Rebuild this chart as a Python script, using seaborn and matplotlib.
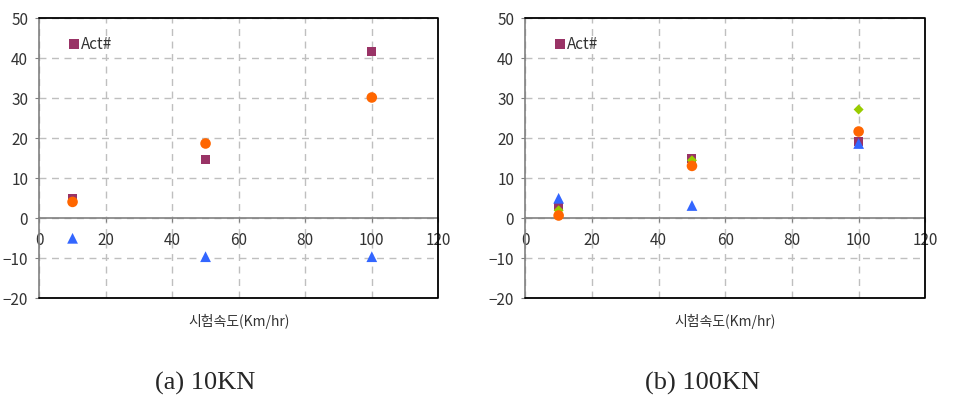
import numpy as np
import pandas as pd
import matplotlib
matplotlib.use("Agg")
import matplotlib.pyplot as plt
import seaborn as sns
from matplotlib.lines import Line2D

# ---------------- data ----------------
speeds = [10, 50, 100]

# (a) 10KN
a_act = [5.0, 14.6, 41.8]
a_circle = [4.1, 18.7, 30.2]
a_triangle = [-5.0, -9.6, -9.6]

# (b) 100KN
b_act = [2.9, 15.0, 19.2]
b_diamond = [2.0, 14.5, 27.2]
b_circle = [0.7, 13.1, 21.7]
b_triangle = [5.0, 3.2, 18.7]

xticks = [0, 20, 40, 60, 80, 100, 120]
yticks = [-20, -10, 0, 10, 20, 30, 40, 50]
xlabel = "시험속도(Km/hr)"
legend_label = "Act#"
captions = ["(a) 10KN", "(b) 100KN"]

# ---------------- style ----------------
sns.set_style("white")
plt.rcParams['font.family'] = ['Noto Sans CJK KR', 'DejaVu Sans']

MAROON = "#993366"
ORANGE = "#ff6600"
BLUE = "#3366ff"
GREEN = "#99cc00"

fig = plt.figure(figsize=(9.54, 4.04), dpi=100)
axA = fig.add_axes([39.3 / 954, 1 - 298.3 / 404, 399 / 954, 280 / 404])
axB = fig.add_axes([525.3 / 954, 1 - 298.3 / 404, 400 / 954, 280 / 404])


def draw(ax, series):
    for vals, marker, color, size in series:
        df = pd.DataFrame({"x": speeds, "y": vals})
        sns.scatterplot(data=df, x="x", y="y", ax=ax, marker=marker, color=color,
                        s=size, edgecolor="none", linewidth=0, legend=False, zorder=5)
    ax.set_xlim(0, 120)
    ax.set_ylim(-20, 50)
    ax.set_xticks(xticks)
    ax.set_yticks(yticks)
    ax.set_yticklabels([str(v) if v >= 0 else "\u2212" + str(-v) for v in yticks])
    ax.grid(True, linestyle=(0, (5, 4)), color="#bfbfbf", linewidth=1)
    ax.set_axisbelow(True)
    for side in ["top", "right"]:
        ax.spines[side].set_visible(False)
    ax.spines["bottom"].set_position(("data", 0))
    ax.spines["bottom"].set_color("#808080")
    ax.spines["bottom"].set_linewidth(1.2)
    ax.spines["left"].set_color("#808080")
    ax.spines["left"].set_linewidth(1.2)
    # frame
    ax.plot([0, 1, 1, 0], [1, 1, 0, 0], transform=ax.transAxes, color="black",
            linewidth=1.3, clip_on=False, zorder=6)
    ax.tick_params(axis="both", which="major", direction="out", length=3,
                   color="#808080", labelsize=11, labelcolor="#333333",
                   bottom=True, left=True, pad=5)
    ax.tick_params(axis="x", pad=7)
    ax.set_ylabel("")
    ax.set_xlabel(xlabel, fontsize=10, color="#333333")
    ax.xaxis.set_label_coords(0.5, -0.055)
    handle = Line2D([], [], marker="s", linestyle="none", color=MAROON,
                    markersize=6.5, markeredgewidth=0)
    ax.legend([handle], [legend_label], loc="upper left", bbox_to_anchor=(0.045, 0.975),
              frameon=False, handletextpad=0.05, borderpad=0.2, handlelength=0.8,
              prop={"family": ["Noto Sans CJK KR", "DejaVu Sans"], "size": 11},
              labelcolor="#333333")


draw(axA, [
    (a_act, "s", MAROON, 42),
    (a_circle, "o", ORANGE, 58),
    (a_triangle, "^", BLUE, 60),
])
draw(axB, [
    (b_act, "s", MAROON, 42),
    (b_diamond, "D", GREEN, 26),
    (b_circle, "o", ORANGE, 58),
    (b_triangle, "^", BLUE, 60),
])

fig.text(205 / 954, 1 - 383 / 404, captions[0], ha="center", va="center",
         family=["Liberation Serif"], fontsize=19)
fig.text(703 / 954, 1 - 383 / 404, captions[1], ha="center", va="center",
         family=["Liberation Serif"], fontsize=19)

fig.savefig("out.png", dpi=100)
